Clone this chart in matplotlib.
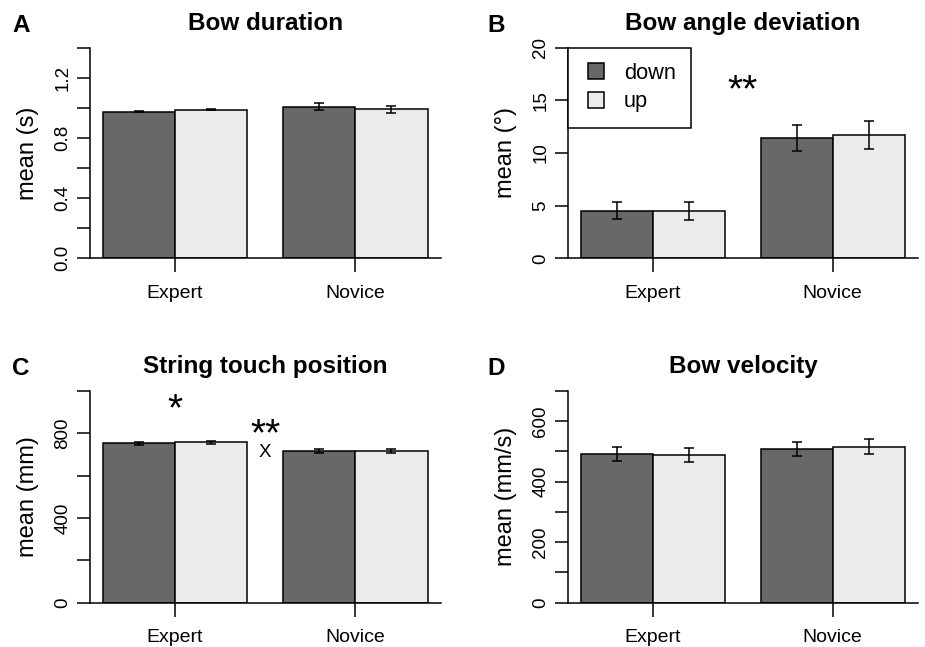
import matplotlib
matplotlib.use('Agg')
import matplotlib.pyplot as plt
from matplotlib.lines import Line2D

plt.rcParams['font.family'] = ['Liberation Sans', 'DejaVu Sans']

# ---- data ----
groups = ['Expert', 'Novice']

dur_down = [0.975, 1.009]
dur_up = [0.987, 0.991]
dur_down_err = [0.004, 0.022]
dur_up_err = [0.004, 0.023]

ang_down = [4.52, 11.40]
ang_up = [4.49, 11.71]
ang_down_err = [0.80, 1.22]
ang_up_err = [0.85, 1.30]

touch_down = [752, 716]
touch_up = [757, 716]
touch_down_err = [9, 10]
touch_up_err = [7, 10]

vel_down = [491, 508]
vel_up = [488, 516]
vel_down_err = [23, 24]
vel_up_err = [23, 24]

dur_ticks = [0.0, 0.2, 0.4, 0.6, 0.8, 1.0, 1.2, 1.4]
dur_labels = ['0.0', '', '0.4', '', '0.8', '', '1.2', '']
ang_ticks = [0, 5, 10, 15, 20]
ang_labels = ['0', '5', '10', '15', '20']
touch_ticks = [0, 200, 400, 600, 800, 1000]
touch_labels = ['0', '', '400', '', '800', '']
vel_ticks = [0, 100, 200, 300, 400, 500, 600, 700]
vel_labels = ['0', '', '200', '', '400', '', '600', '']

# significance marks: (text, x position, y value, size)
ang_marks = [('**', 0.5, 16.6, 28)]
touch_marks = [('*', 0.0, 942, 28), ('**', 0.5, 826, 28), ('X', 0.5, 719, 13.5)]

c_down = '#686868'
c_up = '#eaeceb'
bw = 0.4
lw = 1.1

fig = plt.figure(figsize=(9.25, 6.47), dpi=100)
axA = fig.add_axes([0.0973, 0.6008, 0.3795, 0.3255])
axB = fig.add_axes([0.6141, 0.6008, 0.3784, 0.3255])
axC = fig.add_axes([0.0973, 0.0685, 0.3795, 0.3272])
axD = fig.add_axes([0.6141, 0.0685, 0.3784, 0.3272])


def panel(ax, down, up, down_err, up_err, ticks, labels, title, ylabel):
    x = list(range(len(groups)))
    xd = [i - bw / 2 for i in x]
    xu = [i + bw / 2 for i in x]
    ax.bar(xd, down, width=bw, color=c_down, edgecolor='black', linewidth=lw)
    ax.bar(xu, up, width=bw, color=c_up, edgecolor='black', linewidth=lw)
    ax.errorbar(xd, down, yerr=down_err, fmt='none', ecolor='black',
                elinewidth=lw, capsize=3.5, capthick=lw)
    ax.errorbar(xu, up, yerr=up_err, fmt='none', ecolor='black',
                elinewidth=lw, capsize=3.5, capthick=lw)
    ax.set_xlim(-0.472, 1.475)
    ax.set_ylim(ticks[0], ticks[-1])
    ax.set_xticks(x)
    ax.set_xticklabels(groups, fontsize=14)
    ax.set_yticks(ticks)
    ax.set_yticklabels(labels, fontsize=13.5, rotation=90, va='center')
    ax.tick_params(axis='x', length=10, width=lw, pad=9)
    ax.tick_params(axis='y', length=9.4, width=lw, pad=4)
    for s in ['top', 'right']:
        ax.spines[s].set_visible(False)
    ax.spines['left'].set_linewidth(lw)
    ax.spines['bottom'].set_linewidth(lw)
    ax.set_title(title, fontsize=17.5, fontweight='bold', pad=13)
    ax.set_ylabel(ylabel, fontsize=17)
    ax.yaxis.set_label_coords(-0.146, 0.5)


def marks(ax, items):
    for txt, xm, ym, fs in items:
        off = -0.45 * fs if txt.startswith('*') else -0.358 * fs
        ax.annotate(txt, (xm, ym), xytext=(0, off), textcoords='offset points',
                    ha='center', va='baseline', fontsize=fs)


panel(axA, dur_down, dur_up, dur_down_err, dur_up_err, dur_ticks, dur_labels,
      'Bow duration', 'mean (s)')
panel(axB, ang_down, ang_up, ang_down_err, ang_up_err, ang_ticks, ang_labels,
      'Bow angle deviation', 'mean (°)')
panel(axC, touch_down, touch_up, touch_down_err, touch_up_err, touch_ticks,
      touch_labels, 'String touch position', 'mean (mm)')
panel(axD, vel_down, vel_up, vel_down_err, vel_up_err, vel_ticks, vel_labels,
      'Bow velocity', 'mean (mm/s)')

marks(axB, ang_marks)
marks(axC, touch_marks)

handles = [Line2D([], [], linestyle='none', marker='s', markersize=11.5,
                  markerfacecolor=c, markeredgecolor='black',
                  markeredgewidth=lw) for c in [c_down, c_up]]
leg = axB.legend(handles, ['down', 'up'], loc='upper left',
                 bbox_to_anchor=(0, 1), borderaxespad=0, fontsize=15.7,
                 frameon=True, fancybox=False, framealpha=1,
                 edgecolor='black', borderpad=0.7, handlelength=1.14,
                 handletextpad=0.73, labelspacing=0.34)
leg.get_frame().set_linewidth(lw)

for lab, xp, yp in [('A', 12, 31.5), ('B', 487, 31.5),
                    ('C', 12, 375), ('D', 487, 375)]:
    fig.text(xp / 925, 1 - yp / 647, lab, fontsize=17.5, fontweight='bold',
             ha='left', va='baseline')

fig.savefig('out.png', dpi=100)
